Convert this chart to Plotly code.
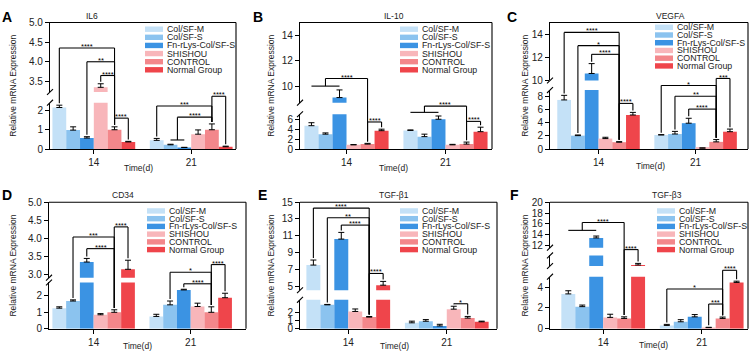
import plotly.graph_objects as go

W, H = 752, 360
FONT = "Liberation Sans, Arial, sans-serif"

groups = ["Col/SF-M", "Col/SF-S", "Fn-rLys-Col/SF-S", "SHISHOU", "CONTROL", "Normal Group"]
days = ["14", "21"]
colors = ["#C4E1F7", "#8BC3EF", "#3B93E3", "#F8B6BA", "#F3878B", "#EF454B"]

# ---- values (mean, upper SD) ----
il6_d14 = [2.15, 0.98, 0.57, 3.35, 1.00, 0.37]
il6_e14 = [0.12, 0.17, 0.07, 0.09, 0.15, 0.03]
il6_d21 = [0.45, 0.22, 0.08, 0.77, 1.00, 0.12]
il6_e21 = [0.10, 0.03, 0.01, 0.22, 0.30, 0.03]

il10_d14 = [4.7, 3.0, 9.1, 0.85, 1.0, 3.7]
il10_e14 = [0.6, 0.25, 0.6, 0.05, 0.15, 0.3]
il10_d21 = [3.75, 2.5, 6.0, 0.85, 1.0, 3.5]
il10_e21 = [0.1, 0.5, 0.65, 0.1, 0.4, 0.9]

vegfa_d14 = [7.5, 2.05, 10.6, 1.6, 1.05, 5.2]
vegfa_e14 = [0.7, 0.1, 0.85, 0.2, 0.08, 0.4]
vegfa_d21 = [2.15, 2.3, 3.95, 0.15, 1.1, 2.65]
vegfa_e21 = [0.05, 0.4, 0.75, 0.02, 0.35, 0.4]

cd34_d14 = [1.25, 1.68, 3.35, 0.85, 1.0, 3.15]
cd34_e14 = [0.08, 0.07, 0.1, 0.07, 0.15, 0.25]
cd34_d21 = [0.75, 1.45, 2.35, 1.35, 1.0, 1.88]
cd34_e21 = [0.13, 0.23, 0.04, 0.2, 0.33, 0.27]

tgfb1_d14 = [7.5, 2.9, 10.6, 2.1, 1.42, 5.1]
tgfb1_e14 = [0.6, 0.05, 0.8, 0.3, 0.07, 0.45]
tgfb1_d21 = [0.73, 0.92, 0.35, 2.38, 1.3, 0.85]
tgfb1_e21 = [0.2, 0.2, 0.2, 0.35, 0.2, 0.08]

tgfb3_d14 = [3.35, 2.13, 13.4, 1.1, 1.0, 6.2]
tgfb3_e14 = [0.3, 0.15, 0.35, 0.3, 0.15, 0.3]
tgfb3_d21 = [0.33, 0.68, 1.15, 0.12, 1.0, 4.45]
tgfb3_e21 = [0.1, 0.2, 0.22, 0.03, 0.13, 0.12]

# ---- tick labels per axis segment (bottom to top) ----
il6_yticks = [["0", "1", "2"], ["3.5", "4.0", "4.5", "5.0"]]
il10_yticks = [["0", "2", "4", "6"], ["10", "12", "14"]]
vegfa_yticks = [["0", "2", "4", "6", "8"], ["10", "12", "14"]]
cd34_yticks = [["0", "1", "2"], ["3.0", "3.5", "4.0", "4.5", "5.0"]]
tgfb1_yticks = [["0", "1", "2"], ["5", "7", "9", "11", "13", "15"]]
tgfb3_yticks = [["0", "2", "4"], [], ["12", "14", "16", "18", "20"]]

# ---- significance: (day, left group(s), right group, height, label, foot height) ----
il6_sig = [(0, 0, 4, 4.35, "****", None), (0, 2, 4, 4.0, "**", None),
           (0, 3, 4, 3.65, "****", None), (0, 4, 5, 1.6, "****", None),
           (1, 0, 4, 2.23, "***", None), (1, (1, 2), 4, 1.65, "****", 0.47),
           (1, 4, 5, 2.9, "****", None)]
il10_sig = [(0, (0, 1, 2), 4, 10.6, "****", 10.0), (0, 4, 5, 5.45, "****", None),
            (1, (0, 1, 2), 4, 8.2, "****", 7.28), (1, 4, 5, 5.57, "****", None)]
vegfa_sig = [(0, 0, 4, 14.14, "****", None), (0, 1, 4, 13.0, "*", None),
             (0, 2, 4, 12.25, "****", None), (0, 4, 5, 6.97, "****", None),
             (1, 0, 4, 9.47, "*", None), (1, 1, 4, 8.07, "**", None),
             (1, 2, 4, 6.1, "****", None), (1, 4, 5, 10.17, "***", None)]
cd34_sig = [(0, 1, 4, 4.04, "***", None), (0, 2, 4, 3.72, "****", None),
            (0, 4, 5, 4.32, "****", None), (1, 1, 4, 3.07, "*", None),
            (1, 2, 4, 2.72, "****", None), (1, 4, 5, 3.28, "****", None)]
tgfb1_sig = [(0, 0, 4, 14.3, "****", None), (0, 1, 4, 13.15, "**", None),
             (0, 2, 4, 12.27, "****", None), (0, 4, 5, 6.5, "****", None),
             (1, 3, 4, 3.03, "*", None)]
tgfb3_sig = [(0, (0, 1, 2), 4, 16.25, "****", 14.8), (0, 4, 5, 10.7, "****", None),
             (1, 0, 4, 3.82, "*", None), (1, 3, 4, 2.38, "***", None),
             (1, 4, 5, 5.6, "****", None)]

# ---- panel layout (pixel geometry) ----
panels = [
    dict(letter="A", title="IL6", data=(il6_d14, il6_d21, il6_e14, il6_e21), sig=il6_sig,
         yticks=il6_yticks, segs=[(0, 2.4, 148, 100), (3.23, 5.0, 89, 17)],
         xpx=(50, 236), xr=(-0.45, 1.46), letter_xy=(7, 11), title_xy=(92, 10),
         ytitle_x=13, xtitle_xy=(138, 168), legend=(145, 24, 8.4)),
    dict(letter="B", title="IL-10", data=(il10_d14, il10_d21, il10_e14, il10_e21), sig=il10_sig,
         yticks=il10_yticks, segs=[(0, 7, 148, 112), (8.7, 15, 100, 17)],
         xpx=(300, 492), xr=(-0.47, 1.47), letter_xy=(258, 11), title_xy=(394, 10),
         ytitle_x=271, xtitle_xy=(393, 168), legend=(400, 24, 8.4)),
    dict(letter="C", title="VEGFA", data=(vegfa_d14, vegfa_d21, vegfa_e14, vegfa_e21), sig=vegfa_sig,
         yticks=vegfa_yticks, segs=[(0, 9, 148, 87), (10, 15, 77, 17)],
         xpx=(550, 748), xr=(-0.5, 1.54), letter_xy=(512, 11), title_xy=(670, 10),
         ytitle_x=525, xtitle_xy=(650, 166), legend=(655, 22, 8.0)),
    dict(letter="D", title="CD34", data=(cd34_d14, cd34_d21, cd34_e14, cd34_e21), sig=cd34_sig,
         yticks=cd34_yticks, segs=[(0, 2.8, 334, 286), (2.92, 5.0, 281, 203)],
         xpx=(49, 246), xr=(-0.46, 1.57), letter_xy=(7, 196), title_xy=(123, 195),
         ytitle_x=13, xtitle_xy=(137, 352), legend=(147, 212, 8.0)),
    dict(letter="E", title="TGF-β1", data=(tgfb1_d14, tgfb1_d21, tgfb1_e14, tgfb1_e21), sig=tgfb1_sig,
         yticks=tgfb1_yticks, segs=[(0, 3.5, 334, 304), (4.5, 15, 294, 203)],
         xpx=(300, 497), xr=(-0.49, 1.51), letter_xy=(262, 196), title_xy=(394, 195),
         ytitle_x=271, xtitle_xy=(394, 352), legend=(400, 212, 8.0)),
    dict(letter="F", title="TGF-β3", data=(tgfb3_d14, tgfb3_d21, tgfb3_e14, tgfb3_e21), sig=tgfb3_sig,
         yticks=tgfb3_yticks, segs=[(0, 5, 334, 280), (6, 8, 269, 258), (11.6, 20, 250, 203)],
         xpx=(550, 748), xr=(-0.54, 1.47), letter_xy=(514, 196), title_xy=(667, 195),
         ytitle_x=525, xtitle_xy=(653, 351), legend=(657, 212, 8.0)),
]

BARGAP = 0.15
GW = 1 - BARGAP


def bar_x(day, i):
    return day - GW / 2 + (i + 0.5) * GW / 6


def val_px(segs, v):
    for lo, hi, pb, pt in segs:
        if lo <= v <= hi:
            return pb + (v - lo) / (hi - lo) * (pt - pb)
    for a, b in zip(segs, segs[1:]):
        if a[1] < v < b[0]:
            return a[3] + (v - a[1]) / (b[0] - a[1]) * (b[2] - a[3])
    lo, hi, pb, pt = segs[-1]
    return pb + (v - lo) / (hi - lo) * (pt - pb)


def py(px):
    return 1 - px / H


def pxx(px):
    return px / W


fig = go.Figure()
layout = {}
shapes = []
annots = []
LINE = dict(color="black", width=1.1)
yn = 0

for p, P in enumerate(panels):
    xn = p + 1
    xname = "xaxis" if xn == 1 else f"xaxis{xn}"
    xref = "x" if xn == 1 else f"x{xn}"
    x0, x1 = P["xpx"]
    m14, m21, e14, e21 = P["data"]
    segs = P["segs"]
    first_y = None
    for s_i, (lo, hi, pb, pt) in enumerate(segs):
        yn += 1
        yname = "yaxis" if yn == 1 else f"yaxis{yn}"
        yref = "y" if yn == 1 else f"y{yn}"
        if first_y is None:
            first_y = yref
        ticks = P["yticks"][s_i]
        layout[yname] = dict(domain=[py(pb), py(pt)], range=[lo, hi], anchor=xref,
                             showline=True, linecolor="black", linewidth=1.1,
                             ticks="outside" if ticks else "", ticklen=4, tickwidth=1.1, tickcolor="black",
                             tickvals=[float(t) for t in ticks], ticktext=ticks,
                             showgrid=False, zeroline=False, fixedrange=True,
                             tickfont=dict(family=FONT, size=10, color="#222"))
        for i, g in enumerate(groups):
            fig.add_trace(go.Bar(
                x=[0, 1], y=[m14[i], m21[i]], name=g, xaxis=xref, yaxis=yref,
                marker=dict(color=colors[i], line=dict(width=0)),
                error_y=dict(type="data", symmetric=False, array=[e14[i], e21[i]],
                             arrayminus=[0, 0], color="black", thickness=1, width=3),
                showlegend=False, hoverinfo="skip"))
    layout[xname] = dict(domain=[pxx(x0), pxx(x1)], range=list(P["xr"]), anchor=first_y,
                         tickvals=[0, 1], ticktext=days, ticks="outside", ticklen=4,
                         tickwidth=1.1, tickcolor="black", showline=True, linecolor="black",
                         linewidth=1.1, showgrid=False, zeroline=False, fixedrange=True,
                         tickfont=dict(family=FONT, size=10, color="#222"))
    bottom_px = segs[0][2]
    top_px = segs[-1][3]
    # frame: top and right
    shapes.append(dict(type="line", xref="paper", yref="paper", x0=pxx(x0), x1=pxx(x1),
                       y0=py(top_px), y1=py(top_px), line=LINE))
    shapes.append(dict(type="line", xref="paper", yref="paper", x0=pxx(x1), x1=pxx(x1),
                       y0=py(bottom_px), y1=py(top_px), line=LINE))
    # break marks
    for a, b in zip(segs, segs[1:]):
        for yb in (a[3], b[2]):
            shapes.append(dict(type="line", xref="paper", yref="paper",
                               x0=pxx(x0 - 3), x1=pxx(x0 + 3), y0=py(yb + 3), y1=py(yb - 3),
                               line=dict(color="black", width=1.1)))
    # significance brackets
    means = (m14, m21)
    errs = (e14, e21)
    for day, left, right, hgt, lab, foot in P["sig"]:
        yt = val_px(segs, hgt)
        xr_ = bar_x(day, right)
        yr_b = val_px(segs, means[day][right] + errs[day][right]) - 2
        if isinstance(left, tuple):
            xl = (bar_x(day, left[0]) + bar_x(day, left[-1])) / 2
            yl_b = val_px(segs, foot)
            shapes.append(dict(type="line", xref=xref, yref="paper",
                               x0=bar_x(day, left[0]), x1=bar_x(day, left[-1]),
                               y0=py(yl_b), y1=py(yl_b), line=LINE))
        else:
            xl = bar_x(day, left)
            yl_b = val_px(segs, means[day][left] + errs[day][left]) - 2
        shapes.append(dict(type="line", xref=xref, yref="paper", x0=xl, x1=xr_,
                           y0=py(yt), y1=py(yt), line=LINE))
        shapes.append(dict(type="line", xref=xref, yref="paper", x0=xl, x1=xl,
                           y0=py(yt), y1=py(max(yl_b, yt)), line=LINE))
        shapes.append(dict(type="line", xref=xref, yref="paper", x0=xr_, x1=xr_,
                           y0=py(yt), y1=py(max(yr_b, yt)), line=LINE))
        annots.append(dict(text=lab, xref=xref, yref="paper", x=(xl + xr_) / 2, y=py(yt - 1.5),
                           xanchor="center", yanchor="middle", showarrow=False,
                           font=dict(family=FONT, size=7.5, color="black")))
    # legend
    lx, ly, lstep = P["legend"]
    for i, g in enumerate(groups):
        yy = ly + i * lstep
        shapes.append(dict(type="rect", xref="paper", yref="paper", x0=pxx(lx), x1=pxx(lx + 18),
                           y0=py(yy + 2.8), y1=py(yy - 2.8), fillcolor=colors[i], line=dict(width=0)))
        annots.append(dict(text=g, xref="paper", yref="paper", x=pxx(lx + 21), y=py(yy),
                           xanchor="left", yanchor="middle", showarrow=False, borderpad=0,
                           font=dict(family=FONT, size=8.8, color="#222")))
    # texts
    annots.append(dict(text="<b>" + P["letter"] + "</b>", xref="paper", yref="paper",
                       x=pxx(P["letter_xy"][0]), y=py(P["letter_xy"][1]), xanchor="center",
                       yanchor="middle", showarrow=False, font=dict(family=FONT, size=14, color="black")))
    annots.append(dict(text=P["title"], xref="paper", yref="paper",
                       x=pxx(P["title_xy"][0]), y=py(P["title_xy"][1]), xanchor="center",
                       yanchor="middle", showarrow=False, font=dict(family=FONT, size=8.5, color="#222")))
    annots.append(dict(text="Relative mRNA Expression", xref="paper", yref="paper",
                       x=pxx(P["ytitle_x"]), y=py((bottom_px + top_px) / 2), xanchor="center",
                       yanchor="middle", textangle=-90, showarrow=False,
                       font=dict(family=FONT, size=8.5, color="#222")))
    annots.append(dict(text="Time(d)", xref="paper", yref="paper",
                       x=pxx(P["xtitle_xy"][0]), y=py(P["xtitle_xy"][1]), xanchor="center",
                       yanchor="middle", showarrow=False, font=dict(family=FONT, size=8.5, color="#222")))

fig.update_layout(width=W, height=H, margin=dict(l=0, r=0, t=0, b=0),
                  paper_bgcolor="white", plot_bgcolor="white", barmode="group",
                  bargap=BARGAP, bargroupgap=0, showlegend=False,
                  shapes=shapes, annotations=annots, font=dict(family=FONT), **layout)
fig.write_html("out.html", config={"displayModeBar": False},
               post_script="document.body.style.margin='0px';document.body.style.overflow='hidden';")
